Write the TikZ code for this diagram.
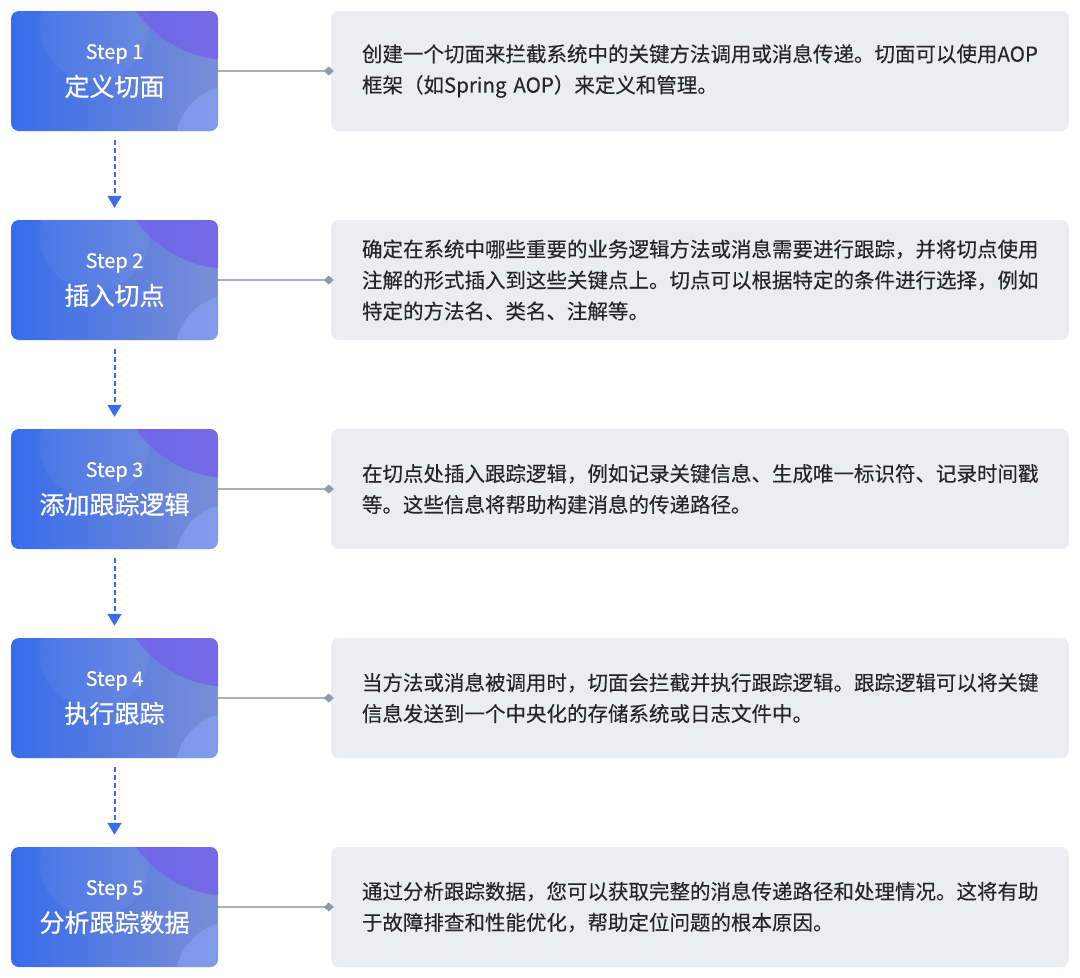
\documentclass[tikz,border=0pt]{standalone}
\usepackage{fontspec}
\setmainfont{Noto Sans CJK SC}
\newfontfamily\titlefont{Noto Sans CJK SC}[FakeBold=0.7]
\newfontfamily\infofont{Noto Sans CJK SC}[FakeBold=0.25]
\usepackage{tikz}
\usetikzlibrary{arrows.meta}

\definecolor{stepA}{RGB}{56,108,234}
\definecolor{stepB}{RGB}{122,142,214}
\definecolor{stepP}{RGB}{116,92,236}
\definecolor{stepL}{RGB}{132,160,242}
\definecolor{infogray}{RGB}{235,237,242}
\definecolor{textdark}{RGB}{38,38,42}
\definecolor{linkgray}{RGB}{168,177,196}
\definecolor{dotgray}{RGB}{143,153,176}
\definecolor{flowblue}{RGB}{58,110,232}

\tikzset{
  stepbox/.style={rounded corners=8pt, minimum width=207pt, minimum height=120pt,
    left color=stepA, right color=stepB, text=white, align=center, inner sep=0pt,
    font=\titlefont\fontsize{25}{37}\selectfont,
    path picture={
      \fill[white,opacity=0.05] ([shift={(-20,-45)}]path picture bounding box.center) circle (55);
      \fill[stepP,opacity=0.7] ([shift={(12,-66)}]path picture bounding box.north east) circle (115);
      \fill[stepL,opacity=0.75] ([shift={(17,14)}]path picture bounding box.south east) circle (60);
    }},
  infobox/.style={fill=infogray, rounded corners=8pt, minimum width=738pt, minimum height=120pt,
    text width=676pt, inner xsep=31pt, align=left, text=textdark,
    font=\infofont\fontsize{20.5}{31}\selectfont},
  link/.style={draw=linkgray, line width=1.5pt, -{Diamond[length=10pt,width=9pt,color=dotgray,fill=dotgray]}, shorten >=-3pt},
  flow/.style={draw=flowblue, line width=2pt, dash pattern=on 5pt off 3pt,
    -{Triangle[length=12pt,width=14pt,fill=flowblue]}, shorten <=9pt, shorten >=12pt}
}

\begin{document}
\begin{tikzpicture}[x=1pt,y=-1pt]
\useasboundingbox (0,0) rectangle (1080,978);

\foreach \i/\name/\info in {
  1/定义切面/{创建一个切面来拦截系统中的关键方法调用或消息传递。切面可以使用AOP\\框架（如Spring AOP）来定义和管理。},
  2/插入切点/{确定在系统中哪些重要的业务逻辑方法或消息需要进行跟踪，并将切点使用\\注解的形式插入到这些关键点上。切点可以根据特定的条件进行选择，例如\\特定的方法名、类名、注解等。},
  3/添加跟踪逻辑/{在切点处插入跟踪逻辑，例如记录关键信息、生成唯一标识符、记录时间戳\\等。这些信息将帮助构建消息的传递路径。},
  4/执行跟踪/{当方法或消息被调用时，切面会拦截并执行跟踪逻辑。跟踪逻辑可以将关键\\信息发送到一个中央化的存储系统或日志文件中。},
  5/分析跟踪数据/{通过分析跟踪数据，您可以获取完整的消息传递路径和处理情况。这将有助\\于故障排查和性能优化，帮助定位问题的根本原因。}}
{
  \pgfmathsetmacro\yc{71+209*(\i-1)}
  \node[stepbox] (step\i) at (114.5,\yc) {{\fontsize{20}{37}\selectfont Step \i}\\\name};
  \node[infobox] (info\i) at (700,\yc) {\info};
  \draw[link] (step\i.east) -- (info\i.west);
}

% dashed flow between the steps
\foreach \i [count=\j from 2] in {1,...,4}
  \draw[flow] (step\i.south) -- (step\j.north);
\end{tikzpicture}
\end{document}
